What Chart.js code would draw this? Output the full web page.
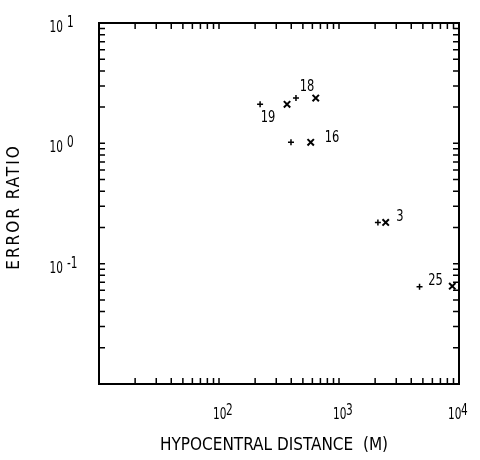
<!DOCTYPE html>
<html>
<head>
<meta charset="utf-8">
<script src="https://cdn.jsdelivr.net/npm/chart.js@4.4.1/dist/chart.umd.min.js"></script>
<style>
  body { margin: 0; background: #fff; }
  #wrap { width: 480px; height: 460px; position: relative; }
</style>
</head>
<body>
<div id="wrap"><canvas id="chart"></canvas></div>
<script>
// event pairs: "+" and "x" markers
const plusX = [220, 438, 398, 2110, 4690];
const plusY = [2.11, 2.38, 1.02, 0.220, 0.0644];
const crossX = [369, 640, 581, 2450, 8790];
const crossY = [2.11, 2.38, 1.02, 0.220, 0.0650];
const eventIds = ["19", "18", "16", "3", "25"];

const xTickValues = [100, 1000, 10000];
const xTickExps = ["2", "3", "4"];
const yTickValues = [0.1, 1, 10];
const yTickExps = ["-1", "0", "1"];

const xTitle = "HYPOCENTRAL DISTANCE  (M)";
const yTitle = "ERROR RATIO";

const FONT = "'Liberation Sans Narrow', 'DejaVu Sans Condensed', sans-serif";

// label offsets (px) from the "+" marker of each pair
const labelOffsets = [[8, 14], [11, -11], [41, -4], [22, -5], [16, -6]];

function toPoints(xs, ys) {
  return xs.map((x, i) => ({ x: x, y: ys[i] }));
}

// narrow plotter-like text: draw with a horizontal squeeze
function squeezed(ctx, text, x, y, size, sx, align) {
  ctx.save();
  ctx.font = size + "px " + FONT;
  ctx.textAlign = align;
  ctx.translate(x, y);
  ctx.scale(sx, 1);
  ctx.fillText(text, 0, 0);
  ctx.restore();
}

const framePlugin = {
  id: "frame",
  afterDraw(chart) {
    const ctx = chart.ctx;
    const a = chart.chartArea;
    const xs = chart.scales.x, ys = chart.scales.y;
    ctx.save();
    ctx.strokeStyle = "#000";
    ctx.lineWidth = 2;
    ctx.strokeRect(a.left, a.top, a.right - a.left, a.bottom - a.top);

    // inward ticks on all four sides
    ctx.lineWidth = 1.5;
    const len = 6;
    ctx.beginPath();
    for (let d = 10; d < 10000; d *= 10) {
      for (let m = 1; m <= 10; m++) {
        const px = xs.getPixelForValue(d * m);
        ctx.moveTo(px, a.bottom); ctx.lineTo(px, a.bottom - len);
        ctx.moveTo(px, a.top); ctx.lineTo(px, a.top + len);
      }
    }
    for (let d = 0.01; d < 10; d *= 10) {
      for (let m = 1; m <= 10; m++) {
        const py = ys.getPixelForValue(d * m);
        ctx.moveTo(a.left, py); ctx.lineTo(a.left + len, py);
        ctx.moveTo(a.right, py); ctx.lineTo(a.right - len, py);
      }
    }
    ctx.stroke();

    ctx.fillStyle = "#000";
    // x tick labels, roughly centred on the tick, kept inside the page
    xTickValues.forEach((v, i) => {
      let x0 = xs.getPixelForValue(v) - 6;
      x0 = Math.min(x0, 467 - 19);
      squeezed(ctx, "10", x0, a.bottom + 35, 15, 0.78, "left");
      squeezed(ctx, xTickExps[i], x0 + 13, a.bottom + 31, 15, 0.78, "left");
    });
    // y tick labels
    yTickValues.forEach((v, i) => {
      const py = ys.getPixelForValue(v);
      squeezed(ctx, "10", 63, py + 9, 15, 0.78, "right");
      squeezed(ctx, yTickExps[i], 67, py + 4, 15, 0.78, "left");
    });

    // event labels
    ctx.textBaseline = "middle";
    eventIds.forEach((id, i) => {
      const px = xs.getPixelForValue(plusX[i]) + labelOffsets[i][0];
      const py = ys.getPixelForValue(plusY[i]) + labelOffsets[i][1];
      squeezed(ctx, id, px, py, 15, 0.85, "center");
    });

    // axis titles
    ctx.font = "17px " + FONT;
    ctx.textAlign = "center";
    ctx.fillText(xTitle, (a.left + a.right) / 2 - 5, 446);
    ctx.translate(15, 207);
    ctx.rotate(-Math.PI / 2);
    ctx.letterSpacing = "2px";
    ctx.fillText(yTitle, 0, 0);
    ctx.restore();
  }
};

new Chart(document.getElementById("chart"), {
  type: "scatter",
  data: {
    datasets: [
      {
        label: "plus",
        data: toPoints(plusX, plusY),
        pointStyle: "cross",
        pointRadius: 3,
        borderColor: "#000",
        borderWidth: 1.5
      },
      {
        label: "cross",
        data: toPoints(crossX, crossY),
        pointStyle: "crossRot",
        pointRadius: 4.5,
        borderColor: "#000",
        borderWidth: 2
      }
    ]
  },
  options: {
    responsive: true,
    maintainAspectRatio: false,
    animation: false,
    layout: { padding: { left: 99, right: 21, top: 23, bottom: 76 } },
    plugins: { legend: { display: false }, tooltip: { enabled: false } },
    scales: {
      x: { type: "logarithmic", min: 10, max: 10000, display: false },
      y: { type: "logarithmic", min: 0.01, max: 10, display: false }
    }
  },
  plugins: [framePlugin]
});
</script>
</body>
</html>
